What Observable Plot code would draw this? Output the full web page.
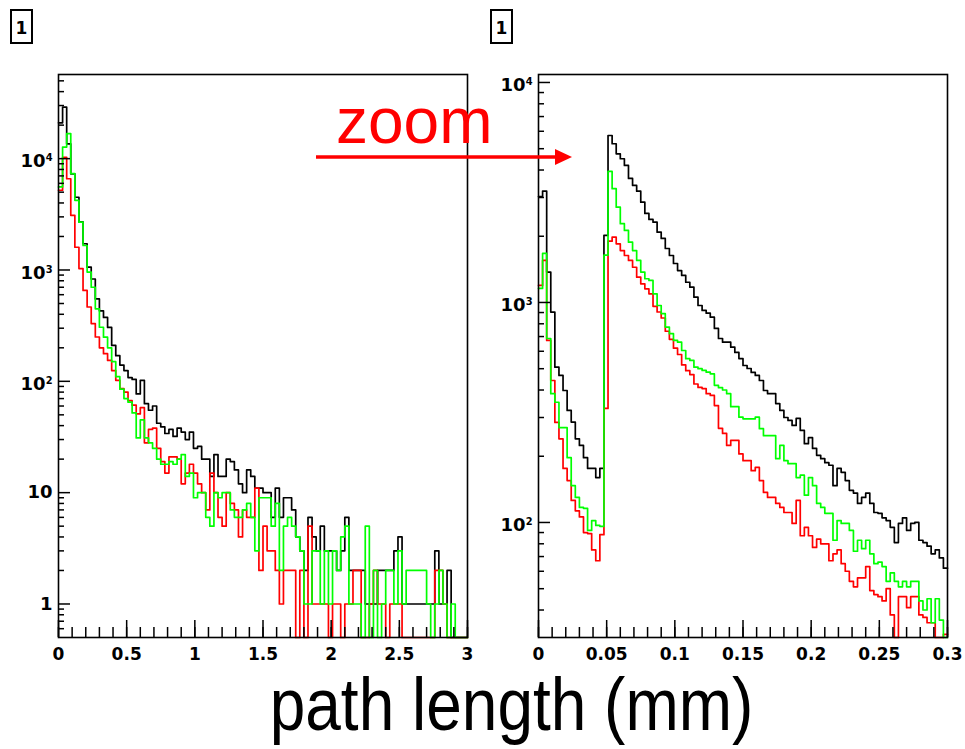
<!DOCTYPE html>
<html><head><meta charset="utf-8">
<script src="https://cdn.jsdelivr.net/npm/d3@7"></script>
<script src="https://cdn.jsdelivr.net/npm/@observablehq/plot@0.6"></script>
<style>
html,body{margin:0;padding:0;background:#fff;}
#wrap{position:relative;width:965px;height:749px;overflow:hidden;background:#fff;font-family:"Liberation Sans",Arial,sans-serif;}
#wrap > svg{position:absolute;top:0;overflow:visible;}
</style></head><body><div id="wrap"></div>
<script>
// ---------- data (100 bins per histogram) ----------
const binWidthLeft = 0.03;   // mm, range 0..3
const binWidthRight = 0.003; // mm, range 0..0.3

const leftBlack = [21000,29000,13600,7300,4500,2700,1720,1060,830,550,430,375,305,210,170,140,125,108,104,77,102,63,55,60,42,39,34,37,32,38,35,30,35,25,26,20,20,14,22,14,14,20,19,16,12,10,16,14,11,11,10,10,6,11,6,9,9,7,4,3,2,6,4,3,5,3,3,3,2,3,6,2,2,2,2,1,1,1,2,2,2,2,3,4,1,1,1,1,1,1,1,1,3,1,1,2,0,0,0,0];
const leftRed = [5200,10300,6600,3100,1600,1030,655,465,330,250,200,177,154,125,102,86,80,67,61,51,58,28,37,38,25,19,15,21,21,20,12,15,18,15,12,10,7,15,10,6,5,10,8,7,4,7,6,6,11,2,5,3,3,2,1,2,2,2,0,2,0,5,1,1,1,1,0,1,1,0,1,1,2,2,0,0,1,2,1,1,0,1,1,1,0,0,0,0,0,0,0,0,2,2,1,0,0,0,0,0];
const leftGreen = [5570,12700,16800,7330,4220,2690,1660,957,700,448,306,249,200,150,110,85,70,65,52,31,45,31,28,25,20,18,18,19,18,20,22,14,15,9,10,10,6,5,10,9,10,10,7,6,6,7,8,6,3,9,9,9,5,8,2,5,6,5,4,3,1,1,3,3,1,3,1,3,2,4,5,1,1,1,0,5,0,2,0,1,2,2,1,3,1,2,2,2,2,2,1,0,1,2,1,0,1,0,0,0];

const rightBlack = [3030,3210,1375,904,508,466,398,323,286,240,224,197,176,176,160,176,2020,5740,5265,4740,4500,4195,3662,3405,3207,2858,2540,2385,2318,2087,1954,1759,1635,1504,1397,1327,1236,1173,1057,969,920,894,857,762,686,660,660,626,593,556,517,501,481,466,442,398,385,385,347,323,300,291,276,297,262,228,243,217,202,195,187,182,147,176,169,155,140,136,122,130,136,122,111,110,105,102,95,81,99,105,92,99,100,83,81,78,72,75,69,62];
const rightRed = [1195,1552,672,442,285,240,176,155,126,113,106,90,89,75,67,88,330,1900,1980,1848,1722,1635,1552,1446,1303,1216,1154,1095,960,905,850,740,680,620,580,520,490,470,426,411,406,385,378,340,268,254,224,236,236,205,191,191,172,178,155,137,130,130,122,117,111,111,99,126,87,95,87,77,84,80,80,67,72,75,65,60,54,51,56,56,63,49,47,46,44,50,38,25,46,46,41,46,46,38,37,35,35,25,25,31];
const rightGreen = [1158,1670,686,385,352,270,270,197,147,130,117,116,92,102,97,96,1640,3940,3290,2711,2280,2125,1880,1722,1552,1374,1282,1259,1095,969,889,773,721,672,660,605,555,545,508,500,491,482,474,420,410,400,385,336,336,301,296,296,296,301,267,248,248,248,195,224,191,185,185,160,164,133,160,147,122,117,110,110,83,102,99,99,92,74,83,76,83,72,65,66,63,54,59,54,51,54,51,54,54,44,40,45,35,45,36,29];

// ---------- axes ----------
const xMajorLeft = [0, 0.5, 1, 1.5, 2, 2.5, 3];
const xLabelsLeft = ["0", "0.5", "1", "1.5", "2", "2.5", "3"];
const yMajorLeft = [1, 10, 100, 1000, 10000];
const yLabelsLeft = ["1", "10", "10^2", "10^3", "10^4"];
const xMajorRight = [0, 0.05, 0.1, 0.15, 0.2, 0.25, 0.3];
const xLabelsRight = ["0", "0.05", "0.1", "0.15", "0.2", "0.25", "0.3"];
const yMajorRight = [100, 1000, 10000];
const yLabelsRight = ["10^2", "10^3", "10^4"];
const seriesColors = ["#000000", "#ff0000", "#00ff00"];
const padLabel = "1";
const overlayText = "zoom";
const xTitle = "path length (mm)";

const tickFont = "'DejaVu Sans', 'Liberation Sans', sans-serif";

function stepPoints(vals, w, ymin) {
  const pts = vals.map((v, i) => ({x: i * w, y: Math.max(v, ymin)}));
  pts.push({x: vals.length * w, y: Math.max(vals[vals.length - 1], ymin)});
  return pts;
}
function logMinor(lo, hi) {
  const out = [];
  for (let e = Math.floor(Math.log10(lo)) ; e <= Math.ceil(Math.log10(hi)); e++) {
    for (let k = 2; k <= 9; k++) {
      const v = k * Math.pow(10, e);
      if (v > lo * 1.001 && v < hi) out.push(v);
    }
  }
  return out;
}
function labeler(majors, labels) {
  return d => labels[d3.leastIndex(majors, m => Math.abs(m - d))];
}

function panel(cfg) {
  const {xDomain, yDomain, w, series, xMajor, xLabels, xMinorStep, yMajor, yLabels} = cfg;
  const xMinor = d3.range(0, Math.round(xDomain[1] / xMinorStep) + 1).map(i => +(i * xMinorStep).toFixed(6));
  const yMinor = logMinor(yDomain[0], yDomain[1]);
  const lines = series.map((vals, i) => Plot.line(stepPoints(vals, w, yDomain[0]), {
    x: "x", y: "y", curve: "step-after", stroke: seriesColors[i], strokeWidth: 1.7
  }));
  return Plot.plot({
    width: 480, height: 700,
    marginLeft: 58, marginRight: 13, marginTop: 74, marginBottom: 63,
    x: {domain: xDomain, label: null},
    y: {type: "log", domain: yDomain, label: null},
    style: {fontFamily: tickFont, fontWeight: "bold", background: "transparent", color: "#000", overflow: "visible"},
    marks: [
      ...lines,
      Plot.frame({stroke: "#000", strokeWidth: 1.6}),
      Plot.axisX({ticks: xMinor, tickSize: -10, fill: "none", label: null, strokeWidth: 1.5}),
      Plot.axisX({ticks: xMajor, tickSize: -17, fill: "none", label: null, strokeWidth: 1.5}),
      Plot.axisX({ticks: xMajor, tickSize: 0, tickPadding: 10, tickFormat: labeler(xMajor, xLabels), label: null}),
      Plot.axisY({ticks: yMinor, tickSize: -6, fill: "none", label: null, strokeWidth: 1.5}),
      Plot.axisY({ticks: yMajor, tickSize: 0, tickPadding: 6, tickFormat: labeler(yMajor, yLabels), label: null}),
      Plot.axisY({ticks: yMajor, tickSize: -12, fill: "none", label: null, strokeWidth: 1.5})
    ]
  });
}

function styleLabels(svg) {
  const s = d3.select(svg);
  s.style("overflow", "visible");
  s.selectAll("g[aria-label='x-axis tick label']").attr("font-size", 17).style("font-size", "17px").attr("font-weight", "bold");
  s.selectAll("g[aria-label='y-axis tick label']").attr("font-size", 18).style("font-size", "18px").attr("font-weight", "bold");
  s.selectAll("text").each(function () {
    const t = this.textContent;
    if (t.includes("^")) {
      const [b, e] = t.split("^");
      const sel = d3.select(this);
      sel.text(null);
      sel.append("tspan").attr("dy", 3).text(b);
      sel.append("tspan").attr("dy", "-0.6em").attr("font-size", "0.55em").text(e);
    }
  });
}

const wrap = document.getElementById("wrap");
const left = panel({xDomain: [0, 3], yDomain: [0.5, 57000], w: binWidthLeft,
  series: [leftBlack, leftRed, leftGreen], xMajor: xMajorLeft, xLabels: xLabelsLeft, xMinorStep: 0.1,
  yMajor: yMajorLeft, yLabels: yLabelsLeft});
const right = panel({xDomain: [0, 0.3], yDomain: [30, 10870], w: binWidthRight,
  series: [rightBlack, rightRed, rightGreen], xMajor: xMajorRight, xLabels: xLabelsRight, xMinorStep: 0.01,
  yMajor: yMajorRight, yLabels: yLabelsRight});
styleLabels(left); styleLabels(right);
left.style.left = "0px";
right.style.left = "480px";
wrap.appendChild(left);
wrap.appendChild(right);

// ---------- overlay annotations ----------
const ov = d3.create("svg").attr("width", 965).attr("height", 749)
  .style("left", "0px").style("pointer-events", "none")
  .attr("font-family", "'Liberation Sans', Arial, sans-serif");
[11, 491].forEach(x0 => {
  ov.append("rect").attr("x", x0).attr("y", 10).attr("width", 21).attr("height", 33)
    .attr("fill", "#fff").attr("stroke", "#000").attr("stroke-width", 2);
  ov.append("text").attr("x", x0 + 10.5).attr("y", 33.5).attr("text-anchor", "middle")
    .attr("font-family", tickFont).attr("font-size", 17).attr("font-weight", "bold").text(padLabel);
});
ov.append("text").attr("x", 336).attr("y", 143).attr("font-size", 64).attr("fill", "#ff0000").text(overlayText);
ov.append("line").attr("x1", 316).attr("x2", 557).attr("y1", 157).attr("y2", 157)
  .attr("stroke", "#ff0000").attr("stroke-width", 3.5);
ov.append("path").attr("d", "M555,149 L572,157 L555,165 Z").attr("fill", "#ff0000");
ov.append("text").attr("transform", "translate(511.5,730) scale(1,1.15)")
  .attr("text-anchor", "middle").attr("font-size", 64).attr("fill", "#000").text(xTitle);
wrap.appendChild(ov.node());
</script>
</body></html>
